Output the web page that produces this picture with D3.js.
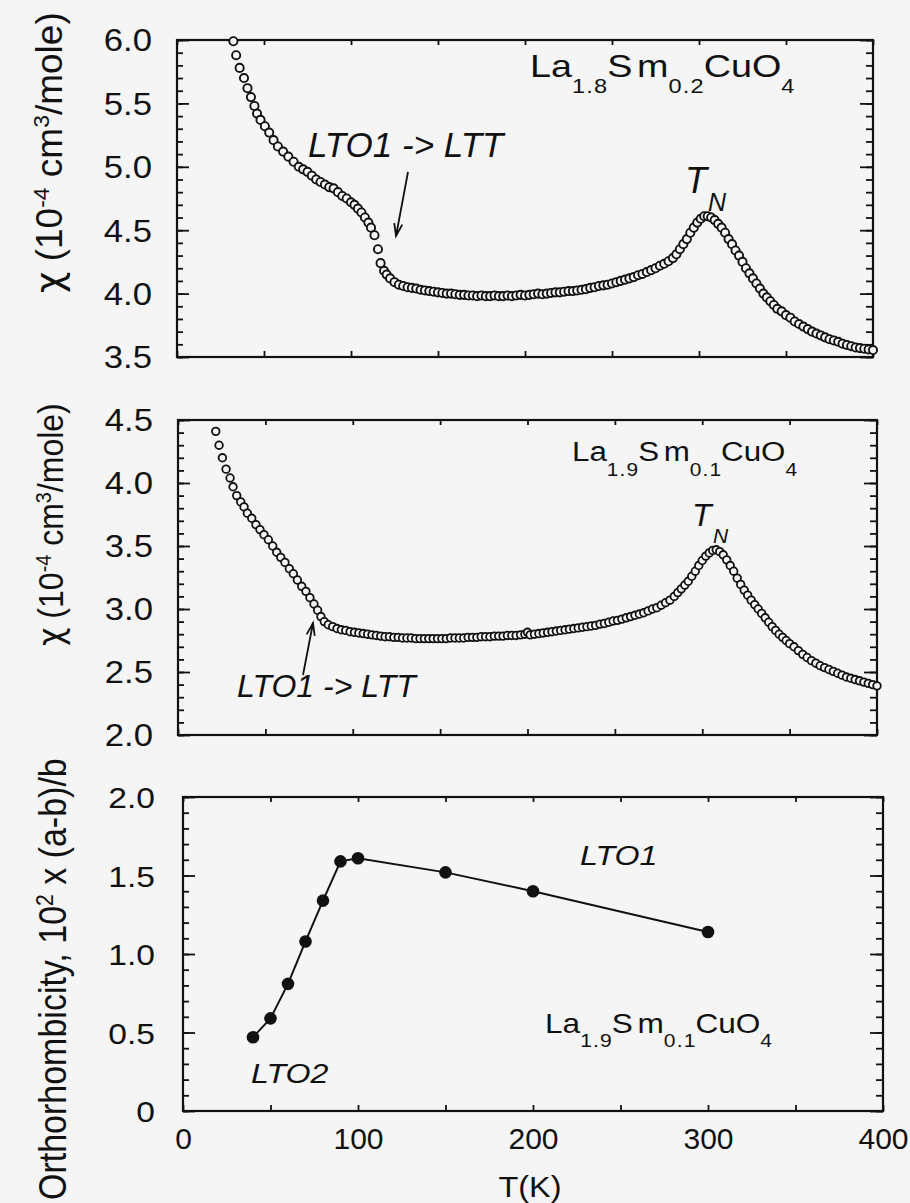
<!DOCTYPE html>
<html><head><meta charset="utf-8">
<script src="https://cdn.jsdelivr.net/npm/d3@7"></script>
<style>
html,body{margin:0;padding:0;background:#f5f5f5;}
svg{display:block;}
</style></head><body>
<svg id="c" width="910" height="1203"></svg>
<script>
// ---------------- data ----------------
const tempTop = [32.4,34,36,38.5,40.5,42.5,44.5,46,48,50.5,53,55.5,58,61,64,67,70,72.5,75,77.5,80,82.5,85,87.5,90,92.5,95,97.5,100,102,104,106,108,110,111.5,113.5,115.5,117,119,120.5,122.5,125,127.5,
130,132.5,135,137.5,140,142.5,145,147.5,150,152.5,155,157.5,160,162.5,165,167.5,170,172.5,175,177.5,180,182.5,185,187.5,190,192.5,195,197.5,200,202.5,205,207.5,210,212.5,215,217.5,220,222.5,225,227.5,230,232.5,235,237.5,240,242.5,245,247.5,250,252.5,255,257.5,260,262.5,265,267.5,270,272.5,275,277.5,280,282.5,285,
287,289,291,293,295,297,299,301,303,305,307,309,311,313,315,317,319,321,323,325,327,329,331,333,335,337,339,341,343,345,
347.5,350,352.5,355,357.5,360,362.5,365,367.5,370,372.5,375,377.5,380,382.5,385,387.5,390,392.5,395,397.5,400];
const chiTop = [5.99,5.88,5.78,5.70,5.62,5.55,5.48,5.42,5.37,5.32,5.27,5.21,5.16,5.12,5.08,5.04,5.00,4.98,4.96,4.93,4.90,4.88,4.86,4.84,4.83,4.80,4.77,4.75,4.72,4.70,4.67,4.64,4.60,4.56,4.52,4.46,4.35,4.24,4.18,4.15,4.12,4.09,4.07,
4.06,4.05,4.045,4.04,4.03,4.025,4.02,4.015,4.01,4.005,4.0,4.0,3.995,3.99,3.99,3.985,3.985,3.98,3.985,3.98,3.98,3.985,3.98,3.98,3.985,3.98,3.985,3.99,3.985,3.99,3.995,4.0,3.995,4.0,4.005,4.01,4.01,4.015,4.02,4.02,4.025,4.03,4.035,4.045,4.05,4.06,4.065,4.07,4.08,4.09,4.10,4.11,4.12,4.13,4.145,4.155,4.17,4.185,4.20,4.22,4.235,4.255,4.28,
4.31,4.35,4.39,4.43,4.48,4.52,4.56,4.59,4.61,4.61,4.60,4.58,4.55,4.52,4.48,4.43,4.39,4.34,4.30,4.25,4.20,4.16,4.12,4.08,4.04,4.00,3.97,3.94,3.91,3.88,
3.86,3.83,3.81,3.78,3.76,3.74,3.72,3.70,3.685,3.67,3.655,3.64,3.63,3.62,3.605,3.595,3.585,3.575,3.57,3.565,3.56,3.555];

const tempMid = [21.6,23.5,25.4,27.5,29.8,31.5,33.6,35.9,37.8,39.7,42.2,44.6,46.9,49.2,51.7,54.2,56.5,58.8,61.2,63.7,66,68.3,70.8,73.2,75.5,77.8,79.9,81.8,83.7,86,
88.5,91,93.5,96,98.5,101,103.5,106,108.5,111,113.5,116,118.5,121,123.5,126,128.5,131,133.5,136,138.5,141,143.5,146,148.5,151,153.5,156,158.5,161,163.5,166,168.5,171,173.5,176,178.5,181,183.5,186,188.5,191,193.5,196,198.5,
200,
201.5,204,206.5,209,211.5,214,216.5,219,221.5,224,226.5,229,231.5,234,236.5,239,241.5,244,246.5,249,251.5,254,256.5,259,261.5,264,266.5,269,271.5,274,276.5,279,281.5,
284,286,288,290,292,294,296,298,300,302,304,306,308,310,312,314,316,318,320,322,324,326,328,330,332,334,336,338,340,342,344,346,348,350,
352.5,355,357.5,360,362.5,365,367.5,370,372.5,375,377.5,380,382.5,385,387.5,390,392.5,395,397.5,400];
const chiMid = [4.41,4.30,4.20,4.11,4.04,3.97,3.90,3.85,3.81,3.76,3.72,3.67,3.63,3.59,3.55,3.50,3.45,3.41,3.37,3.32,3.28,3.23,3.18,3.14,3.09,3.04,2.99,2.94,2.90,2.875,
2.86,2.845,2.835,2.83,2.82,2.815,2.81,2.805,2.80,2.795,2.79,2.785,2.78,2.78,2.775,2.775,2.77,2.77,2.77,2.765,2.765,2.765,2.765,2.765,2.765,2.765,2.765,2.77,2.77,2.77,2.77,2.775,2.775,2.775,2.78,2.78,2.78,2.785,2.785,2.785,2.79,2.79,2.79,2.795,2.80,
2.815,
2.795,2.80,2.805,2.81,2.815,2.82,2.825,2.83,2.835,2.84,2.845,2.85,2.855,2.86,2.865,2.87,2.88,2.885,2.895,2.905,2.91,2.92,2.93,2.94,2.95,2.96,2.97,2.985,3.0,3.01,3.03,3.05,3.07,
3.10,3.13,3.16,3.19,3.22,3.26,3.30,3.345,3.385,3.42,3.445,3.465,3.47,3.455,3.43,3.39,3.345,3.30,3.245,3.195,3.15,3.11,3.07,3.035,3.00,2.965,2.93,2.895,2.86,2.83,2.80,2.775,2.75,2.725,
2.70,2.67,2.64,2.615,2.59,2.57,2.55,2.535,2.52,2.505,2.49,2.475,2.46,2.45,2.44,2.43,2.42,2.41,2.40,2.39];

const tempOrth = [40,50,60,70,80,90,100,150,200,300];
const orthValues = [0.47,0.59,0.81,1.08,1.34,1.59,1.61,1.52,1.40,1.14];

const xTickLabels = [0,100,200,300,400];
const yTicksTop = [3.5,4.0,4.5,5.0,5.5,6.0];
const yTicksMid = [2.0,2.5,3.0,3.5,4.0,4.5];
const yTicksOrth = [0,0.5,1.0,1.5,2.0];

// ---------------- drawing ----------------
const FONT = '"Liberation Sans", Arial, Helvetica, sans-serif';
const INK = "#111";
const BG = "#f5f5f5";
const svg = d3.select("#c");
svg.append("rect").attr("width",910).attr("height",1203).attr("fill",BG);

function addText(x, y, parts, o) {
  let tr = `translate(${x},${y})`;
  if (o.rotate) tr += ` rotate(${o.rotate})`;
  tr += ` scale(${o.sx||1},${o.sy||1})`;
  const t = svg.append("text")
    .attr("transform", tr)
    .attr("text-anchor", o.anchor || "start")
    .attr("font-family", FONT)
    .attr("font-size", o.size)
    .attr("font-style", o.italic ? "italic" : "normal")
    .attr("fill", INK);
  parts.forEach(p => {
    const s = t.append("tspan").text(p.t);
    if (p.size) s.attr("font-size", p.size);
    if (p.dy) s.attr("dy", p.dy);
    if (p.dx) s.attr("dx", p.dx);
    if (p.ls) s.attr("letter-spacing", p.ls);
    if (p.family) s.attr("font-family", p.family);
  });
  return t;
}

function formula(x, y, main, sub, drop, n1, n2, sx) {
  const ls = 1;
  addText(x, y, [
    {t:"La"},
    {t:n1, size:sub, dy:drop, ls:ls},
    {t:"S", dy:-drop, dx:-ls},
    {t:"m", dx:4},
    {t:n2, size:sub, dy:drop, ls:ls},
    {t:"CuO", dy:-drop, dx:-ls},
    {t:"4", size:sub, dy:drop}
  ], {size:main, sx:sx});
}

function arrow(x1, y1, x2, y2) {
  const ang = Math.atan2(y2 - y1, x2 - x1);
  const L = 13, a = 0.32;
  const p = d3.path();
  p.moveTo(x1, y1); p.lineTo(x2, y2);
  p.moveTo(x2 - L*Math.cos(ang - a), y2 - L*Math.sin(ang - a));
  p.lineTo(x2, y2);
  p.lineTo(x2 - L*Math.cos(ang + a), y2 - L*Math.sin(ang + a));
  svg.append("path").attr("d", p.toString()).attr("fill","none")
    .attr("stroke", INK).attr("stroke-width", 1.8);
}

function panel(p) {
  const x = d3.scaleLinear().domain([0,400]).range([p.x0, p.x1]);
  const y = d3.scaleLinear().domain(p.yd).range([p.y1, p.y0]);
  const g = svg.append("g");
  const xMinor = d3.range(0, 401, 50);
  const yMinor = d3.range(Math.round(p.yd[0]*10), Math.round(p.yd[1]*10)+1).map(v => v/10);
  const tickStyle = s => {
    s.select(".domain").remove();
    s.selectAll("line").attr("stroke", INK).attr("stroke-width", 1.8);
  };
  g.append("g").attr("transform",`translate(0,${p.y1})`)
    .call(d3.axisBottom(x).tickValues(xMinor).tickSize(-6).tickFormat("")).call(tickStyle);
  g.append("g").attr("transform",`translate(0,${p.y0})`)
    .call(d3.axisTop(x).tickValues(xMinor).tickSize(-5).tickFormat("")).call(tickStyle);
  g.append("g").attr("transform",`translate(${p.x0},0)`)
    .call(d3.axisLeft(y).tickValues(yMinor).tickSize(-6).tickFormat("")).call(tickStyle);
  g.append("g").attr("transform",`translate(${p.x0},0)`)
    .call(d3.axisLeft(y).tickValues(p.yt).tickSize(-12).tickFormat("")).call(tickStyle);
  g.append("g").attr("transform",`translate(${p.x1},0)`)
    .call(d3.axisRight(y).tickValues(yMinor).tickSize(-7).tickFormat("")).call(tickStyle);
  g.append("g").attr("transform",`translate(${p.x1},0)`)
    .call(d3.axisRight(y).tickValues(p.yt).tickSize(-13).tickFormat("")).call(tickStyle);
  // y labels
  const ysx = p.ysx || 1.12;
  const yl = g.append("g").attr("transform",`translate(${p.x0},0)`)
    .call(d3.axisLeft(y).tickValues(p.yt).tickSize(0).tickPadding(p.pad / ysx)
      .tickFormat(d => d === 0 ? "0" : d3.format(".1f")(d)));
  yl.select(".domain").remove();
  yl.attr("font-family", null).attr("font-size", null);
  yl.selectAll("text").attr("font-family", FONT).attr("font-size", p.ysize)
    .attr("fill", INK).attr("dy", p.ydy || "0.35em").attr("transform", `scale(${ysx},1)`);
  if (p.xlabels) {
    const xl = g.append("g").attr("transform",`translate(0,${p.y1})`)
      .call(d3.axisBottom(x).tickValues(xTickLabels).tickSize(0).tickPadding(17).tickFormat(d3.format("d")));
    xl.select(".domain").remove();
    xl.attr("font-family", null).attr("font-size", null);
    xl.selectAll("text").attr("font-family", FONT).attr("font-size", 30).attr("fill", INK);
  }
  // frame
  g.append("rect").attr("x", p.x0).attr("y", p.y0)
    .attr("width", p.x1 - p.x0).attr("height", p.y1 - p.y0)
    .attr("fill","none").attr("stroke", INK).attr("stroke-width", 2.2);
  return {x, y};
}

// ---- top panel ----
const P1 = panel({x0:177, x1:873, y0:40, y1:357, yd:[3.5,6.0], yt:yTicksTop, pad:25, ysize:31});
svg.append("g").selectAll("circle").data(d3.zip(tempTop, chiTop)).join("circle")
  .attr("cx", d => P1.x(d[0])).attr("cy", d => P1.y(d[1])).attr("r", 4.1)
  .attr("fill", BG).attr("stroke", INK).attr("stroke-width", 1.9);

// ---- middle panel ----
const P2 = panel({x0:178, x1:877, y0:420, y1:735, yd:[2.0,4.5], yt:yTicksMid, pad:25, ysize:31});
svg.append("g").selectAll("circle").data(d3.zip(tempMid, chiMid)).join("circle")
  .attr("cx", d => P2.x(d[0])).attr("cy", d => P2.y(d[1])).attr("r", 3.8)
  .attr("fill", BG).attr("stroke", INK).attr("stroke-width", 1.8);

// ---- bottom panel ----
const P3 = panel({x0:183, x1:883, y0:797, y1:1111, yd:[0,2.0], yt:yTicksOrth, pad:28, ysize:30, xlabels:true});
const orthPts = d3.zip(tempOrth, orthValues);
svg.append("path").datum(orthPts)
  .attr("d", d3.line().x(d => P3.x(d[0])).y(d => P3.y(d[1])))
  .attr("fill","none").attr("stroke", INK).attr("stroke-width", 2);
svg.append("g").selectAll("circle").data(orthPts).join("circle")
  .attr("cx", d => P3.x(d[0])).attr("cy", d => P3.y(d[1])).attr("r", 6.3)
  .attr("fill", INK);

// ---- axis titles ----
const chiTitle = [
  {t:"\u03C7", family:'"DejaVu Sans", sans-serif'}, {t:" (10"}, {t:"-4", size:"0.62em", dy:"-0.55em"},
  {t:" cm", dy:"0.34em"}, {t:"3", size:"0.62em", dy:"-0.55em"}, {t:"/mole)", dy:"0.34em"}
];
addText(62, 293, chiTitle, {size:37, rotate:-90, anchor:"start"});
addText(63, 646, chiTitle, {size:32, rotate:-90, anchor:"start", sy:1.12});
addText(66, 1200, [
  {t:"Orthorhombicity, 10"}, {t:"2", size:"0.62em", dy:"-0.55em"}, {t:" x (a-b)/b", dy:"0.34em"}
], {size:34, rotate:-90, anchor:"start", sy:1.15});
addText(530, 1197, [{t:"T(K)"}], {size:30, anchor:"middle", sx:1.08});

// ---- annotations ----
formula(530, 77, 32, 20, 16, "1.8", "0.2", 1.18);
formula(572, 461, 27, 18, 15, "1.9", "0.1", 1.16);
formula(545, 1033, 27, 18, 14, "1.9", "0.1", 1.17);

addText(308, 157, [{t:"LTO1 -> LTT"}], {size:35, italic:true});
arrow(408, 172, 396, 236);
addText(237, 697, [{t:"LTO1 -> LTT"}], {size:32, italic:true});
arrow(303, 675, 313, 623);

addText(685, 193, [{t:"T"}], {size:36, italic:true});
addText(708, 211, [{t:"N"}], {size:25, italic:true});
addText(692, 526, [{t:"T"}], {size:32, italic:true});
addText(713, 543, [{t:"N"}], {size:21, italic:true});

addText(580, 865, [{t:"LTO1"}], {size:28, italic:true, sx:1.15});
addText(251, 1083, [{t:"LTO2"}], {size:28, italic:true, sx:1.15});
</script>
</body></html>
